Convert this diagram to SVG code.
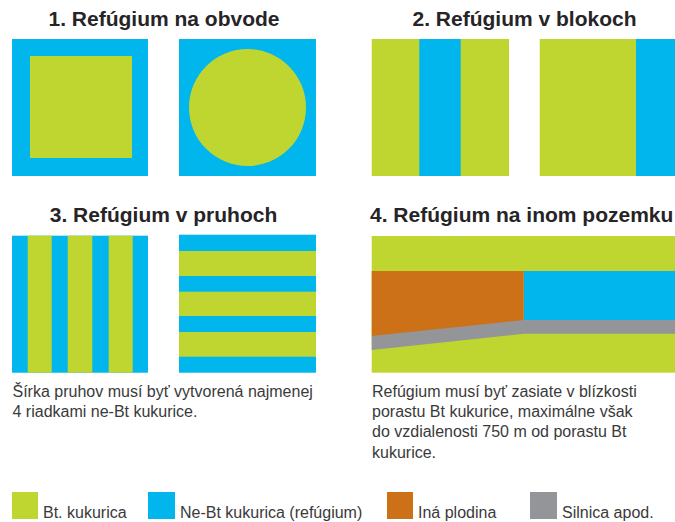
<svg xmlns="http://www.w3.org/2000/svg" width="675" height="522" viewBox="0 0 675 522">
<style>
.g{fill:#bfd630}.b{fill:#00b6ed}.o{fill:#cd7119}.r{fill:#939598}
.t{font-family:"Liberation Sans",Arial,sans-serif;font-weight:bold;font-size:21px;fill:#262426}
.p{font-family:"Liberation Sans",Arial,sans-serif;font-size:16px;fill:#3a3a3a}
</style>
<rect width="675" height="522" fill="#fff"/>
<g id="panel1">
<text class="t" x="164" y="26" text-anchor="middle">1. Refúgium na obvode</text>
<rect class="b" x="12" y="39" width="136" height="137"/>
<rect class="g" x="30" y="56" width="102" height="102"/>
<rect class="b" x="179" y="39" width="137" height="137"/>
<circle class="g" cx="247.5" cy="107.5" r="58.5"/>
</g>
<g id="panel2">
<text class="t" x="524.5" y="26" text-anchor="middle">2. Refúgium v blokoch</text>
<rect class="g" x="371.7" y="39" width="137.3" height="137"/>
<rect class="b" x="419.3" y="39" width="41.4" height="137"/>
<rect class="g" x="539.7" y="39" width="135.3" height="137"/>
<rect class="b" x="636" y="39" width="39" height="137"/>
</g>
<g id="panel3">
<text class="t" x="163.5" y="222" text-anchor="middle">3. Refúgium v pruhoch</text>
<rect class="b" x="12" y="235.7" width="136" height="137"/>
<rect class="g" x="27.7" y="235.7" width="24" height="137"/>
<rect class="g" x="67.7" y="235.7" width="24.6" height="137"/>
<rect class="g" x="108.7" y="235.7" width="24" height="137"/>
<rect class="b" x="179" y="234.7" width="137" height="138"/>
<rect class="g" x="179" y="251" width="137" height="25"/>
<rect class="g" x="179" y="291.7" width="137" height="24.3"/>
<rect class="g" x="179" y="332" width="137" height="24.7"/>
<text class="p" x="12.5" y="397">Šírka pruhov musí byť vytvorená najmenej</text>
<text class="p" x="12.5" y="417">4 riadkami ne-Bt kukurice.</text>
</g>
<g id="panel4">
<text class="t" x="370" y="222">4. Refúgium na inom pozemku</text>
<rect class="g" x="371.7" y="236" width="303.3" height="136.7"/>
<rect class="b" x="523.7" y="271" width="151.3" height="50"/>
<polygon class="o" points="371.7,271 523.7,271 523.7,321 371.7,336.5"/>
<polygon class="r" points="371.7,336 523.7,320 675,320 675,333.7 523.7,333.7 371.7,350"/>
<text class="p" x="372" y="397">Refúgium musí byť zasiate v blízkosti</text>
<text class="p" x="372" y="417">porastu Bt kukurice, maximálne však</text>
<text class="p" x="372" y="437">do vzdialenosti 750 m od porastu Bt</text>
<text class="p" x="372" y="457.5">kukurice.</text>
</g>
<g id="legend">
<rect class="g" x="12" y="492" width="26" height="27"/>
<text class="p" x="43" y="518">Bt. kukurica</text>
<rect class="b" x="148" y="492" width="27" height="27"/>
<text class="p" x="180" y="518">Ne-Bt kukurica (refúgium)</text>
<rect class="o" x="387" y="492" width="26" height="27"/>
<text class="p" x="418" y="518">Iná plodina</text>
<rect class="r" x="530" y="492" width="27" height="27"/>
<text class="p" x="562" y="518">Silnica apod.</text>
</g>
<g id="connectors"/>
</svg>
